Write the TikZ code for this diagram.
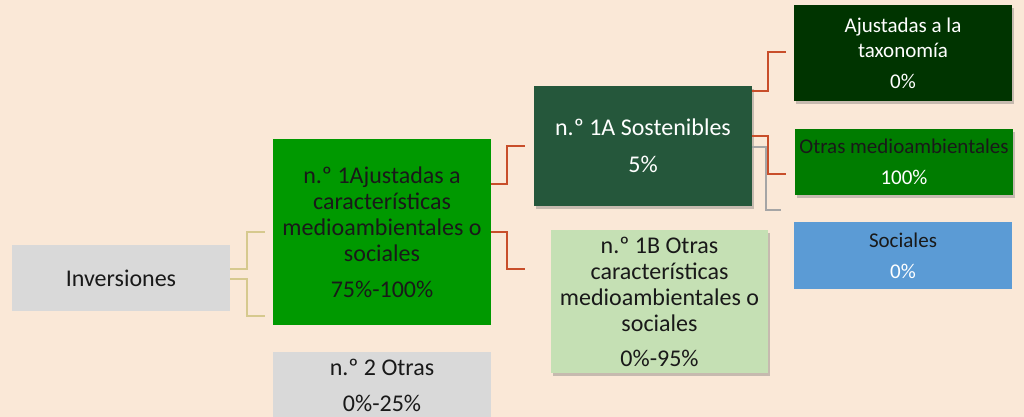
\documentclass[tikz,border=0pt]{standalone}
\usepackage{fontspec}
\setmainfont{Carlito}
\usetikzlibrary{positioning, shadows}

\definecolor{fondo}{RGB}{250,232,215}
\definecolor{gris}{RGB}{217,217,217}
\definecolor{verde}{RGB}{0,153,0}
\definecolor{verdeosc}{RGB}{37,87,59}
\definecolor{verdeclaro}{RGB}{197,224,180}
\definecolor{taxo}{RGB}{0,52,0}
\definecolor{verdemed}{RGB}{0,124,0}
\definecolor{azul}{RGB}{91,155,213}
\definecolor{rojo}{RGB}{200,78,42}
\definecolor{ocre}{RGB}{214,201,142}
\definecolor{grislinea}{RGB}{165,165,165}

\begin{document}
\begin{tikzpicture}[x=1pt, y=-1pt,
    caja/.style={rectangle, inner sep=0pt, align=center,
                 minimum width=218pt, text=black!90,
                 font=\fontsize{24}{26}\selectfont},
    cajita/.style={caja, font=\fontsize{21}{25}\selectfont},
    sombra/.style={drop shadow={opacity=0.35, shadow xshift=2pt,
                   shadow yshift=-3pt, fill=black!60}},
    enlace/.style={line width=1.6pt, draw=rojo}]

    % Background
    \fill[fondo] (0,0) rectangle (1024,417);
    \useasboundingbox (0,0) rectangle (1024,417);

    % Add the boxes
        \node[caja,
              fill=gris,
              minimum height=66pt] (inv) at (121,278) {Inversiones};
        \node[caja,
              fill=verde,
              minimum height=186pt] (grn) at (382,232)
              {n.º 1Ajustadas a\\características\\medioambientales o\\sociales\\[10pt]75\%-100\%};
        \node[caja,
              below=27pt of grn,
              fill=gris,
              minimum height=65pt] (otr) {n.º 2 Otras\\[10pt]0\%-25\%};
        \node[caja,
              sombra,
              fill=verdeosc,
              text=white,
              minimum height=120pt] (sost) at (643,146)
              {n.º 1A Sostenibles\\[11pt]5\%};
        \node[caja,
              sombra,
              fill=verdeclaro,
              minimum width=217pt,
              minimum height=143pt] (b1) at (659.5,301.5)
              {n.º 1B Otras\\características\\medioambientales o\\sociales\\[9pt]0\%-95\%};
        \node[cajita,
              sombra,
              fill=taxo,
              text=white,
              minimum height=96pt] (tax) at (903,53)
              {Ajustadas a la\\taxonomía\\[6pt]0\%};
        \node[cajita,
              sombra,
              fill=verdemed,
              minimum height=66pt] (oma) at (904,162)
              {Otras medioambientales\\[6pt]\textcolor{white}{100\%}};
        \node[cajita,
              fill=azul,
              minimum height=67pt] (soc) at (903,255.5)
              {Sociales\\[6pt]\textcolor{white}{0\%}};

    % Connectors
        \draw[enlace, draw=ocre]
            ([yshift=9pt]inv.east) -- ++(17,0) |- ([xshift=-8pt]grn.west);
        \draw[enlace, draw=ocre]
            ([yshift=-1pt]inv.east) -- ++(17,0) |- ([xshift=-8pt,yshift=-84pt]grn.west);
        \draw[enlace]
            ([yshift=48pt]grn.east) -- ++(16,0) |- ([xshift=-9pt]sost.west);
        \draw[enlace]
            (grn.east) -- ++(16,0) |- ([xshift=-26pt,yshift=32.5pt]b1.west);
        \draw[enlace]
            ([yshift=55pt]sost.east) -- ++(16,0) |- ([xshift=-8pt,yshift=1pt]tax.west);
        \draw[enlace]
            ([yshift=10pt]sost.east) -- ++(16,0) |- ([xshift=-9pt,yshift=-12pt]oma.west);
        \draw[enlace, draw=grislinea]
            ([yshift=-1pt]sost.east) -- ++(14,0) |- ([xshift=-13pt,yshift=45.5pt]soc.west);

\end{tikzpicture}
\end{document}
